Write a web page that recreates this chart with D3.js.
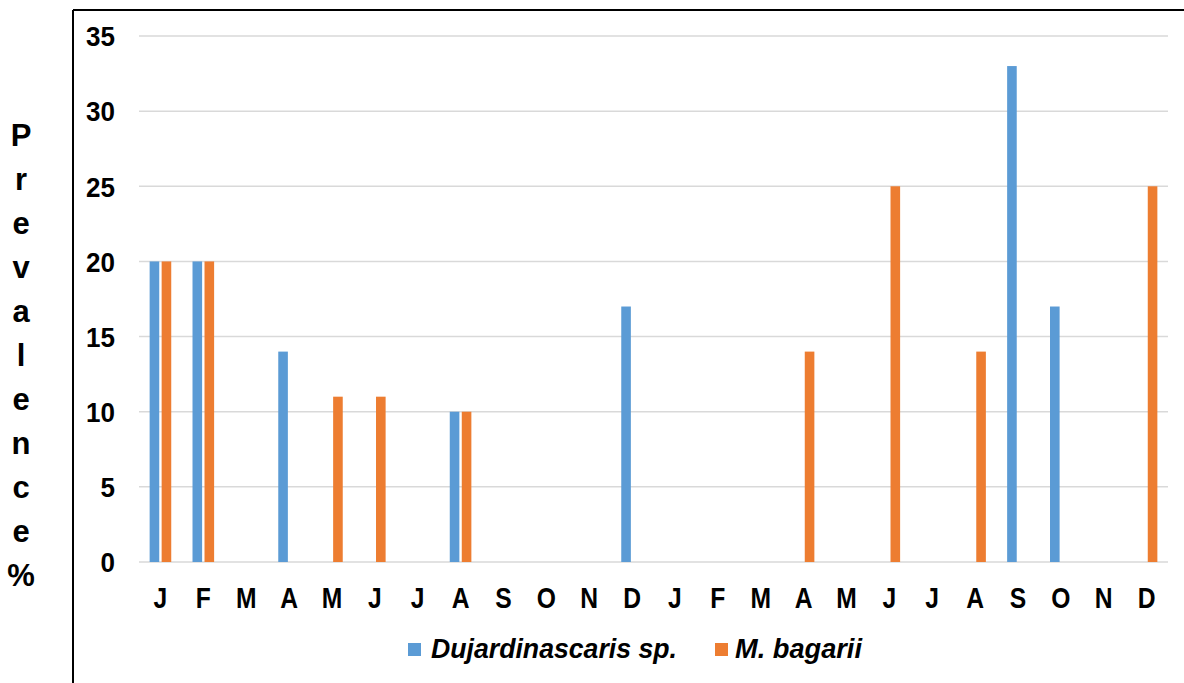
<!DOCTYPE html>
<html>
<head>
<meta charset="utf-8">
<script src="https://cdn.jsdelivr.net/npm/d3@7"></script>
<style>
  html, body { margin: 0; padding: 0; background: #fff; }
  svg { display: block; }
  text { font-family: "Liberation Sans", Arial, sans-serif; font-weight: bold; fill: #000; }
</style>
</head>
<body>
<svg id="chart" width="1184" height="683"></svg>
<script>
// Monthly prevalence (%) over two consecutive years
const months = ["J","F","M","A","M","J","J","A","S","O","N","D",
                "J","F","M","A","M","J","J","A","S","O","N","D"];
const seriesNames = ["Dujardinascaris sp.", "M. bagarii"];
const dujardinascaris = [20,20,0,14,0,0,0,10,0,0,0,17, 0,0,0,0,0,0,0,0,33,17,0,0];
const bagarii        = [20,20,0,0,11,11,0,10,0,0,0,0, 0,0,0,14,0,25,0,14,0,0,0,25];
const yTicks = [0,5,10,15,20,25,30,35];
const colors = ["#5B9BD5", "#ED7D31"];

const svg = d3.select("#chart");
const W = 1184, H = 683;
const plot = { left: 139, right: 1168, top: 36, bottom: 562 };

// Frame around the chart area (top and left edges)
svg.append("line").attr("x1", 73).attr("x2", W).attr("y1", 10).attr("y2", 10)
  .attr("stroke", "#000").attr("stroke-width", 2);
svg.append("line").attr("x1", 73).attr("x2", 73).attr("y1", 10).attr("y2", H)
  .attr("stroke", "#000").attr("stroke-width", 2);

const x = d3.scaleBand().domain(d3.range(months.length))
  .range([plot.left, plot.right]).paddingInner(0.44).paddingOuter(0.22);
const xInner = d3.scaleBand().domain(d3.range(seriesNames.length))
  .range([0, x.bandwidth()]).paddingInner(0.2).paddingOuter(0.1);
const y = d3.scaleLinear().domain([0, 35]).range([plot.bottom, plot.top]);

// Horizontal gridlines
svg.append("g").selectAll("line").data(yTicks).join("line")
  .attr("x1", plot.left).attr("x2", plot.right)
  .attr("y1", d => y(d)).attr("y2", d => y(d))
  .attr("stroke", "#d9d9d9").attr("stroke-width", 1.5);

// Y axis labels
const yAxis = d3.axisLeft(y).tickValues(yTicks).tickSize(0).tickPadding(0);
const gy = svg.append("g").attr("transform", "translate(115,0)").call(yAxis);
gy.select(".domain").remove();
gy.selectAll("text").attr("font-size", 28).attr("font-family", null)
  .attr("dy", "0.35em").attr("transform", "scale(0.93,1)");

// X axis labels (condensed letters)
const xAxis = d3.axisBottom(x).tickFormat(i => months[i]).tickSize(0).tickPadding(0);
const gx = svg.append("g").attr("transform", `translate(0,${plot.bottom})`).call(xAxis);
gx.select(".domain").remove();
gx.selectAll("text").attr("font-size", 29).attr("font-family", null)
  .attr("y", 46).attr("dy", 0).attr("transform", "scale(0.85,1)");

// Bars
const table = months.map((m, i) => ({ i, values: [dujardinascaris[i], bagarii[i]] }));
const groups = svg.append("g").selectAll("g").data(table).join("g")
  .attr("transform", d => `translate(${x(d.i)},0)`);
groups.selectAll("rect").data(d => d.values.map((v, s) => ({ v, s })))
  .join("rect")
  .attr("x", d => xInner(d.s))
  .attr("width", xInner.bandwidth())
  .attr("y", d => y(d.v))
  .attr("height", d => y(0) - y(d.v))
  .attr("fill", d => colors[d.s]);

// Vertical axis title, one letter per line
const title = "Prevalence%".split("");
svg.append("g").selectAll("text").data(title).join("text")
  .attr("x", 21).attr("y", (d, i) => 135 + i * 44)
  .attr("dy", "0.35em")
  .attr("text-anchor", "middle")
  .attr("font-size", 31)
  .text(d => d);

// Legend
const legend = [
  { name: seriesNames[0], color: colors[0], x: 408, labelX: 431, len: 246 },
  { name: seriesNames[1], color: colors[1], x: 715, labelX: 735, len: 127 }
];
const lg = svg.append("g").selectAll("g").data(legend).join("g");
lg.append("rect").attr("x", d => d.x).attr("y", 643).attr("width", 13).attr("height", 13)
  .attr("fill", d => d.color);
lg.append("text").attr("x", d => d.labelX).attr("y", 658)
  .attr("font-size", 28).attr("font-style", "italic")
  .attr("textLength", d => d.len).attr("lengthAdjust", "spacingAndGlyphs")
  .text(d => d.name);
</script>
</body>
</html>
